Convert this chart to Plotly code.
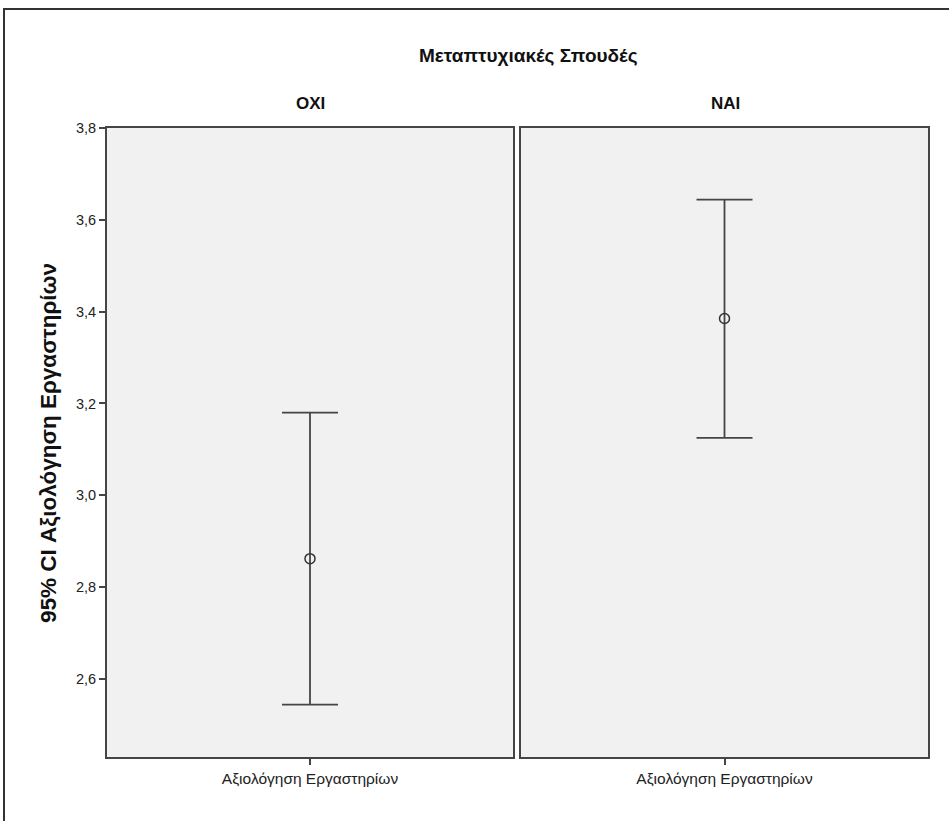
import plotly.graph_objects as go

# ---- data ----
groups = ["ΟΧΙ", "ΝΑΙ"]
variable = "Αξιολόγηση Εργαστηρίων"
means = [2.862, 3.385]
ci_lower = [2.544, 3.125]
ci_upper = [3.180, 3.644]
ytick_vals = [2.6, 2.8, 3.0, 3.2, 3.4, 3.6, 3.8]
ytick_text = ["2,6", "2,8", "3,0", "3,2", "3,4", "3,6", "3,8"]
main_title = "Μεταπτυχιακές Σπουδές"
y_title = "95% CI Αξιολόγηση Εργαστηρίων"

W, H = 949, 821
FONT = "Liberation Sans, Arial, sans-serif"
LINE = "#454545"
BG = "#f0f1f0"

def px(x):
    return x / W

def py(y):
    return 1 - y / H

panels = [(107, 513), (521, 928)]
top, bottom = 128, 757

fig = go.Figure()
for i, g in enumerate(groups):
    xa = "x" if i == 0 else "x2"
    ya = "y" if i == 0 else "y2"
    fig.add_trace(go.Scatter(
        x=[variable], y=[means[i]],
        xaxis=xa, yaxis=ya,
        mode="markers",
        marker=dict(symbol="circle-open", size=10, color="#333333",
                    line=dict(width=1.5, color="#333333")),
        error_y=dict(type="data", symmetric=False,
                     array=[ci_upper[i] - means[i]],
                     arrayminus=[means[i] - ci_lower[i]],
                     width=28, thickness=1.8, color=LINE),
        showlegend=False, hoverinfo="skip",
    ))

yrange = [2.43, 3.8]
common_x = dict(type="category", range=[-0.5, 0.5], showgrid=False, zeroline=False,
                showline=True, mirror=True, linecolor=LINE, linewidth=2,
                ticks="outside", ticklen=6, tickcolor=LINE, tickwidth=1.5,
                tickfont=dict(family=FONT, size=15.5, color="#222222"),
                automargin=False, fixedrange=True)
common_y = dict(range=yrange, showgrid=False, zeroline=False,
                showline=True, mirror=True, linecolor=LINE, linewidth=2,
                automargin=False, fixedrange=True)

fig.update_layout(
    width=W, height=H,
    margin=dict(l=0, r=0, t=0, b=0),
    paper_bgcolor="white",
    plot_bgcolor=BG,
    xaxis=dict(domain=[px(panels[0][0]), px(panels[0][1])], anchor="y", **common_x),
    xaxis2=dict(domain=[px(panels[1][0]), px(panels[1][1])], anchor="y2", **common_x),
    yaxis=dict(domain=[py(bottom), py(top)], anchor="x",
               tickvals=ytick_vals, ticktext=ytick_text,
               ticks="outside", ticklen=6, tickcolor=LINE, tickwidth=1.5,
               tickfont=dict(family=FONT, size=14.5, color="#222222"),
               **common_y),
    yaxis2=dict(domain=[py(bottom), py(top)], anchor="x2", matches="y",
                showticklabels=False, ticks="", **common_y),
    shapes=[
        dict(type="rect", xref="paper", yref="paper",
             x0=px(4), y0=py(9), x1=1.05, y1=-0.05,
             line=dict(color="#333333", width=2), fillcolor="rgba(0,0,0,0)",
             layer="below"),
    ],
    annotations=[
        dict(text="<b>" + main_title + "</b>", xref="paper", yref="paper",
             x=px(528), y=py(55), showarrow=False, xanchor="center", yanchor="middle",
             font=dict(family=FONT, size=19, color="#111111")),
        dict(text="<b>" + groups[0] + "</b>", xref="paper", yref="paper",
             x=px(310), y=py(103), showarrow=False, xanchor="center", yanchor="middle",
             font=dict(family=FONT, size=17, color="#111111")),
        dict(text="<b>" + groups[1] + "</b>", xref="paper", yref="paper",
             x=px(725), y=py(103), showarrow=False, xanchor="center", yanchor="middle",
             font=dict(family=FONT, size=17, color="#111111")),
        dict(text="<b>" + y_title + "</b>", xref="paper", yref="paper",
             x=px(48), y=py(443), showarrow=False, xanchor="center", yanchor="middle",
             textangle=-90,
             font=dict(family=FONT, size=22.5, color="#111111")),
    ],
)

fig.write_html("out.html", config={"displayModeBar": False},
               post_script="document.body.style.margin='0px';")
